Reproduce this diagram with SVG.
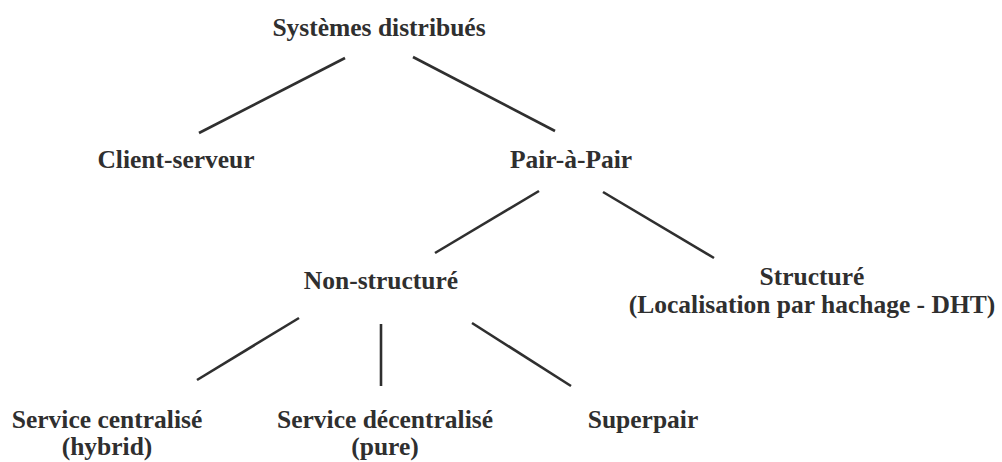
<svg xmlns="http://www.w3.org/2000/svg" width="1002" height="462" viewBox="0 0 1002 462">
<style>
text{font-family:"Liberation Serif","Times New Roman",serif;font-weight:bold;font-size:25.5px;fill:#2f2f2f;text-anchor:middle}
.c line{stroke:#2f2f2f;stroke-width:2.6;stroke-linecap:butt}
</style>
<rect width="1002" height="462" fill="#ffffff"/>
<g class="c" id="connectors">
<line x1="345" y1="58" x2="199" y2="133"/>
<line x1="413" y1="57" x2="555" y2="131"/>
<line x1="539" y1="191" x2="435" y2="253"/>
<line x1="603" y1="192" x2="714" y2="258"/>
<line x1="299" y1="318" x2="197" y2="380"/>
<line x1="381" y1="324" x2="381" y2="386"/>
<line x1="472" y1="323" x2="571" y2="386"/>
</g>
<g id="systemes"><text x="379" y="36">Systèmes distribués</text></g>
<g id="client"><text x="176" y="168">Client-serveur</text></g>
<g id="p2p"><text x="571" y="168">Pair-à-Pair</text></g>
<g id="nonstruct"><text x="381" y="289">Non-structuré</text></g>
<g id="struct"><text x="812" y="285">Structuré</text><text x="812" y="313">(Localisation par hachage - DHT)</text></g>
<g id="centralise"><text x="107" y="428">Service centralisé</text><text x="107" y="455">(hybrid)</text></g>
<g id="decentralise"><text x="385" y="428">Service décentralisé</text><text x="385" y="455">(pure)</text></g>
<g id="superpair"><text x="643" y="428">Superpair</text></g>
</svg>
